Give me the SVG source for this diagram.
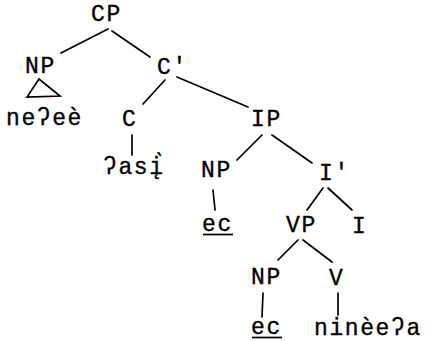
<svg xmlns="http://www.w3.org/2000/svg" width="441" height="341" viewBox="0 0 441 341">
<style>
text{font-family:"Liberation Mono","DejaVu Sans Mono",monospace;font-size:23px;letter-spacing:1.6px;fill:#000;stroke:#000;stroke-width:0.35}
.e line,.e polygon{stroke:#000;stroke-width:1.7;fill:none;stroke-linecap:round}
.u{stroke:#000;stroke-width:1.7}
</style>
<rect width="441" height="341" fill="#fff"/>
<g id="connectors" class="e">
<line x1="108" y1="29" x2="61" y2="53"/>
<line x1="112" y1="31" x2="150" y2="57"/>
<polygon points="39,79 27,97 60,96"/>
<line x1="165" y1="80" x2="143" y2="104"/>
<line x1="177" y1="77" x2="248" y2="107"/>
<line x1="132" y1="135" x2="132" y2="155"/>
<line x1="262" y1="135" x2="237" y2="160"/>
<line x1="272" y1="135" x2="312" y2="163"/>
<line x1="213" y1="190" x2="215" y2="210"/>
<line x1="323" y1="188" x2="307" y2="210"/>
<line x1="328" y1="188" x2="352" y2="210"/>
<line x1="298" y1="240" x2="278" y2="260"/>
<line x1="303" y1="240" x2="332" y2="262"/>
<line x1="263" y1="293" x2="262" y2="317"/>
<line x1="338" y1="293" x2="338" y2="315"/>
</g>
<g id="CP"><text x="91" y="21">CP</text></g>
<g id="NP1"><text x="25" y="73">NP</text></g>
<g id="Cbar"><text x="157" y="74">C'</text></g>
<g id="neee"><text x="6" y="125">neʔeè</text></g>
<g id="C"><text x="122" y="126">C</text></g>
<g id="IP"><text x="251" y="126">IP</text></g>
<g id="asi"><text x="103" y="174">ʔasį̀</text></g>
<g id="NP2"><text x="201" y="177">NP</text></g>
<g id="Ibar"><text x="319" y="180">I'</text></g>
<g id="ec1"><text x="202" y="231">ec</text><line class="u" x1="203" y1="234.5" x2="233" y2="234.5"/></g>
<g id="VP"><text x="286" y="232">VP</text></g>
<g id="I"><text x="352" y="233">I</text></g>
<g id="NP3"><text x="251" y="284">NP</text></g>
<g id="V"><text x="329" y="285">V</text></g>
<g id="ec2"><text x="251" y="334">ec</text><line class="u" x1="252" y1="337.5" x2="282" y2="337.5"/></g>
<g id="ninee"><text x="314" y="335">ninèeʔa</text></g>
</svg>
